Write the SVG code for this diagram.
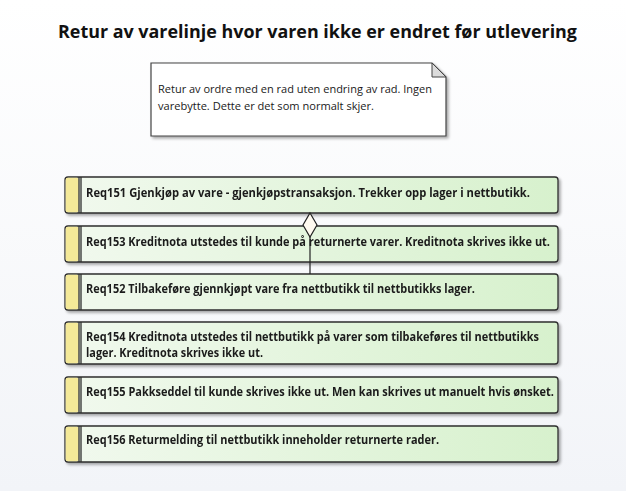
<svg xmlns="http://www.w3.org/2000/svg" width="626" height="491" viewBox="0 0 626 491">
<defs>
<linearGradient id="bg" x1="0" y1="0" x2="0" y2="1">
<stop offset="0" stop-color="#ffffff"/>
<stop offset="1" stop-color="#f2f4f8"/>
</linearGradient>
<linearGradient id="req" x1="0" y1="0" x2="1" y2="0">
<stop offset="0" stop-color="#f1f9ee"/>
<stop offset="1" stop-color="#d7f1cd"/>
</linearGradient>
<filter id="sh" x="-5%" y="-20%" width="110%" height="150%">
<feGaussianBlur in="SourceAlpha" stdDeviation="1.5"/>
<feOffset dx="2" dy="2"/>
<feComponentTransfer><feFuncA type="linear" slope="0.35"/></feComponentTransfer>
<feMerge><feMergeNode/><feMergeNode in="SourceGraphic"/></feMerge>
</filter>
</defs>
<style>
.box{fill:url(#req);stroke:#2e2e2e;stroke-width:1.3}
.strip{fill:#f4e998;stroke:none}
.sep{stroke:#2e2e2e;stroke-width:1.3;fill:none}
.t{font-family:"Open Sans","Liberation Sans",sans-serif;font-weight:bold;font-size:12px;fill:#1a1a1a}
.n{font-family:"Open Sans","Liberation Sans",sans-serif;font-size:11px;fill:#1a1a1a}
.title{font-family:"Open Sans","Liberation Sans",sans-serif;font-weight:bold;font-size:17px;fill:#111}
</style>
<rect x="0" y="0" width="626" height="491" fill="url(#bg)"/>
<text class="title" x="58" y="38" textLength="519" lengthAdjust="spacingAndGlyphs">Retur av varelinje hvor varen ikke er endret før utlevering</text>

<g id="note">
<path d="M151 63 H432 L446 77 V136 H151 Z" fill="#ffffff" stroke="#444" stroke-width="1.2" filter="url(#sh)"/>
<path d="M432 63 L446 77 H432 Z" fill="#dcdcdc" stroke="#444" stroke-width="1"/>
<text class="n" x="158" y="93" textLength="274" lengthAdjust="spacingAndGlyphs">Retur av ordre med en rad uten endring av rad. Ingen</text>
<text class="n" x="158" y="110" textLength="216" lengthAdjust="spacingAndGlyphs">varebytte. Dette er det som normalt skjer.</text>
</g>

<g id="req151" filter="url(#sh)">
<rect class="box" x="65" y="177" width="493" height="36" rx="3"/>
<rect class="strip" x="65.7" y="177.7" width="13" height="34.6" rx="2"/>
<path class="sep" d="M79 177 V213 M81 177 V213"/>
<text class="t" x="86" y="197" textLength="444" lengthAdjust="spacingAndGlyphs">Req151 Gjenkjøp av vare - gjenkjøpstransaksjon. Trekker opp lager i nettbutikk.</text>
</g>
<g id="req153" filter="url(#sh)">
<rect class="box" x="65" y="226" width="493" height="36" rx="3"/>
<rect class="strip" x="65.7" y="226.7" width="13" height="34.6" rx="2"/>
<path class="sep" d="M79 226 V262 M81 226 V262"/>
<text class="t" x="86" y="246" textLength="464" lengthAdjust="spacingAndGlyphs">Req153 Kreditnota utstedes til kunde på returnerte varer. Kreditnota skrives ikke ut.</text>
</g>
<g id="req152" filter="url(#sh)">
<rect class="box" x="65" y="274" width="493" height="36" rx="3"/>
<rect class="strip" x="65.7" y="274.7" width="13" height="34.6" rx="2"/>
<path class="sep" d="M79 274 V310 M81 274 V310"/>
<text class="t" x="86" y="293" textLength="389" lengthAdjust="spacingAndGlyphs">Req152 Tilbakeføre gjennkjøpt vare fra nettbutikk til nettbutikks lager.</text>
</g>
<g id="req154" filter="url(#sh)">
<rect class="box" x="65" y="322" width="493" height="42" rx="3"/>
<rect class="strip" x="65.7" y="322.7" width="13" height="40.6" rx="2"/>
<path class="sep" d="M79 322 V364 M81 322 V364"/>
<text class="t" x="86" y="341" textLength="453" lengthAdjust="spacingAndGlyphs">Req154 Kreditnota utstedes til nettbutikk på varer som tilbakeføres til nettbutikks</text>
<text class="t" x="86" y="357" textLength="177" lengthAdjust="spacingAndGlyphs">lager. Kreditnota skrives ikke ut.</text>
</g>
<g id="req155" filter="url(#sh)">
<rect class="box" x="65" y="377" width="493" height="36" rx="3"/>
<rect class="strip" x="65.7" y="377.7" width="13" height="34.6" rx="2"/>
<path class="sep" d="M79 377 V413 M81 377 V413"/>
<text class="t" x="86" y="396" textLength="468" lengthAdjust="spacingAndGlyphs">Req155 Pakkseddel til kunde skrives ikke ut. Men kan skrives ut manuelt hvis ønsket.</text>
</g>
<g id="req156" filter="url(#sh)">
<rect class="box" x="65" y="426" width="493" height="36" rx="3"/>
<rect class="strip" x="65.7" y="426.7" width="13" height="34.6" rx="2"/>
<path class="sep" d="M79 426 V462 M81 426 V462"/>
<text class="t" x="86" y="444" textLength="353" lengthAdjust="spacingAndGlyphs">Req156 Returmelding til nettbutikk inneholder returnerte rader.</text>
</g>

<g id="connectors">
<line x1="310" y1="237" x2="310" y2="274" stroke="#222" stroke-width="1.2"/>
<path d="M310 213 L317 225 L310 237 L303 225 Z" fill="#fffaf0" stroke="#222" stroke-width="1.2"/>
</g>
</svg>
